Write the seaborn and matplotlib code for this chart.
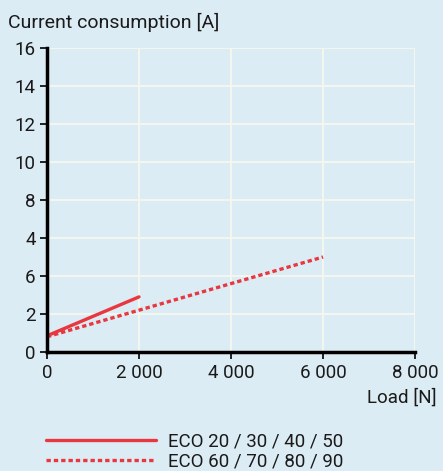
import numpy as np
import pandas as pd
import seaborn as sns
import matplotlib.pyplot as plt

# data
series_names = ["ECO 20 / 30 / 40 / 50", "ECO 60 / 70 / 80 / 90"]
load_small = [0, 2000]
current_small = [0.85, 2.9]
load_large = [0, 6000]
current_large = [0.8, 5.0]

x_ticks = [0, 2000, 4000, 6000, 8000]
x_tick_labels = ["0", "2 000", "4 000", "6 000", "8 000"]
y_ticks = [0, 2, 4, 6, 8, 10, 12, 14, 16]
y_tick_labels = ["0", "2", "6", "4", "8", "10", "12", "14", "16"]  # as printed in the original

df = pd.DataFrame({
    "load": load_small + load_large,
    "current": current_small + current_large,
    "series": [series_names[0]] * len(load_small) + [series_names[1]] * len(load_large),
})

bg = "#dcecf4"
red = "#e8373f"

sns.set_theme(style="white")
plt.rcParams['font.family'] = ['Roboto', 'DejaVu Sans']

fig = plt.figure(figsize=(4.43, 4.71), dpi=100, facecolor=bg)
ax = fig.add_axes([0.106, 0.2527, 0.831, 0.6453])
ax.set_facecolor(bg)

sns.lineplot(data=df, x="load", y="current", hue="series", style="series",
             palette=[red, red], dashes=[(), (1.3, 0.9)], linewidth=2.4,
             legend=False, ax=ax)

ax.set_xlim(0, 8000)
ax.set_ylim(0, 16)
ax.set_xticks(x_ticks)
ax.set_xticklabels(x_tick_labels)
ax.set_yticks(y_ticks)
ax.set_yticklabels(y_tick_labels)
ax.grid(True, color="#f8f8ee", linewidth=1.2)
ax.set_axisbelow(True)

for side in ["top", "right"]:
    ax.spines[side].set_visible(False)
for side in ["left", "bottom"]:
    ax.spines[side].set_color("black")
    ax.spines[side].set_linewidth(2.5)

ax.tick_params(axis="both", which="major", length=5, width=1.2, color="black",
               labelsize=13.5, labelcolor="#1a1a1a", left=True, bottom=True)
ax.tick_params(axis="x", pad=4)
ax.tick_params(axis="y", pad=3)

ax.set_xlabel("")
ax.set_ylabel("")
fig.text(0.018, 0.952, "Current consumption [A]", fontsize=14, color="#1a1a1a",
         ha="left", va="center")
fig.text(0.985, 0.157, "Load [N]", fontsize=13.5, color="#1a1a1a",
         ha="right", va="center")

handles = [
    plt.Line2D([], [], color=red, linewidth=2.4),
    plt.Line2D([], [], color=red, linewidth=2.4, linestyle=(0, (1.3, 0.9))),
]
fig.legend(handles, series_names, loc="center left", bbox_to_anchor=(0.065, 0.042),
           frameon=False, fontsize=13.5, handlelength=5.9, handletextpad=0.65,
           labelspacing=0.12, labelcolor="#1a1a1a")

fig.savefig("out.png", dpi=100, facecolor=bg)
